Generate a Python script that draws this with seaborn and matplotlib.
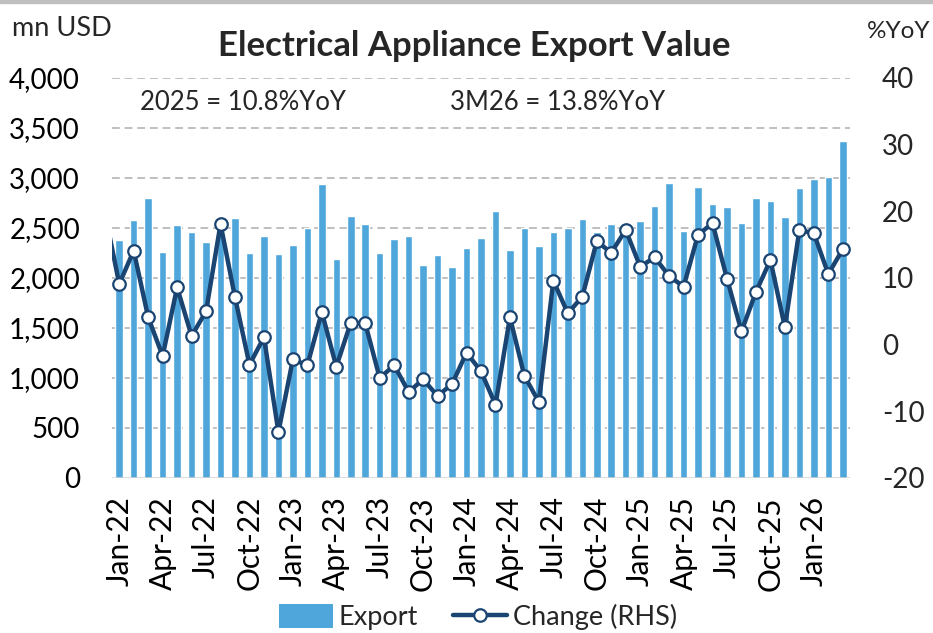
import numpy as np
import pandas as pd
import matplotlib
matplotlib.use("Agg")
import matplotlib.pyplot as plt
from matplotlib.lines import Line2D
from matplotlib.patches import Patch, Rectangle
import seaborn as sns

# ---------------- data ----------------
months = ["Jan-22","Feb-22","Mar-22","Apr-22","May-22","Jun-22","Jul-22","Aug-22","Sep-22","Oct-22","Nov-22","Dec-22",
          "Jan-23","Feb-23","Mar-23","Apr-23","May-23","Jun-23","Jul-23","Aug-23","Sep-23","Oct-23","Nov-23","Dec-23",
          "Jan-24","Feb-24","Mar-24","Apr-24","May-24","Jun-24","Jul-24","Aug-24","Sep-24","Oct-24","Nov-24","Dec-24",
          "Jan-25","Feb-25","Mar-25","Apr-25","May-25","Jun-25","Jul-25","Aug-25","Sep-25","Oct-25","Nov-25","Dec-25",
          "Jan-26","Feb-26","Mar-26"]

export = [2380, 2580, 2805, 2265, 2535, 2460, 2365, 2520, 2603, 2250, 2420, 2245,
          2327, 2503, 2940, 2187, 2623, 2540, 2250, 2393, 2420, 2130, 2230, 2110,
          2300, 2403, 2670, 2277, 2503, 2320, 2463, 2503, 2593, 2460, 2540, 2500,
          2570, 2720, 2947, 2473, 2910, 2740, 2710, 2553, 2800, 2770, 2607, 2897,
          2993, 3007, 3370]

# YoY change; first value is Dec-21 (drawn just outside the left edge)
change_months = ["Dec-21"] + months
change = [19.9, 9.1, 14.1, 4.1, -1.7, 8.6, 1.3, 5.0, 18.1, 7.1, -3.0, 1.1, -13.1,
          -2.2, -3.1, 4.9, -3.3, 3.3, 3.2, -5.0, -3.1, -7.1, -5.2, -7.7, -5.9,
          -1.2, -4.0, -9.0, 4.1, -4.7, -8.6, 9.6, 4.7, 7.2, 15.5, 13.8, 17.2,
          11.7, 13.1, 10.3, 8.7, 16.5, 18.2, 9.9, 2.0, 7.9, 12.7, 2.6, 17.2,
          16.7, 10.6, 14.3]

tick_labels = months[::3]
left_ticks = [0, 500, 1000, 1500, 2000, 2500, 3000, 3500, 4000]
right_ticks = [-20, -10, 0, 10, 20, 30, 40]
title = "Electrical Appliance Export Value"
notes = ["2025 = 10.8%YoY", "3M26 = 13.8%YoY"]

# ---------------- style ----------------
sns.set_theme(style="white")
plt.rcParams["font.family"] = ["Lato", "DejaVu Sans"]
plt.rcParams["axes.unicode_minus"] = False

BAR = "#4EA6DA"
LINE = "#1A4472"
GRID = "#BFBFBF"

fig = plt.figure(figsize=(9.33, 6.33), dpi=100)
ax = fig.add_axes([112/933, 1-478/633, (850-112)/933, 400/633])

df = pd.DataFrame({"month": months, "export": export})
sns.barplot(data=df, x="month", y="export", color=BAR, width=0.52,
            saturation=1, ax=ax, zorder=2)

ax.set_xlim(-0.5, len(months) - 0.5)
ax.set_ylim(0, 4000)
ax.set_yticks(left_ticks)
ax.set_yticklabels([f"{v:,}" for v in left_ticks], fontsize=20)
ax.set_xticks(np.arange(0, len(months), 3))
ax.set_xticklabels(tick_labels, rotation=90, fontsize=21.5)
ax.tick_params(axis="y", length=0, pad=23, colors="black")
ax.tick_params(axis="x", length=0, pad=13, colors="black")
ax.set_xlabel("")
ax.set_ylabel("")
for s in ax.spines.values():
    s.set_visible(False)
for v in left_ticks[1:]:
    ax.axhline(v, color=GRID, lw=1.4, ls=(0, (4, 2.5)), zorder=1)
ax.axhline(0, color="#D0D0D0", lw=1.8, zorder=3)

ax2 = ax.twinx()
dfl = pd.DataFrame({"pos": np.arange(-1, len(months)), "change": change})
sns.lineplot(data=dfl, x="pos", y="change", ax=ax2, color=LINE, lw=3.2,
             marker="o", markersize=9, markerfacecolor="white",
             markeredgecolor=LINE, markeredgewidth=1.6, zorder=4,
             markevery=list(range(1, len(change))))
ax2.set_xlim(-0.5, len(months) - 0.5)
ax2.set_ylim(-20, 40)
ax2.set_yticks(right_ticks)
ax2.set_yticklabels([str(v) for v in right_ticks], fontsize=20)
ax2.tick_params(axis="y", length=0, pad=23)
ax2.set_xlabel("")
ax2.set_ylabel("")
for s in ax2.spines.values():
    s.set_visible(False)

# texts
fig.text(474/933, 1-46/633, title, ha="center", va="center",
         fontsize=25, fontweight="bold", family=["Liberation Sans Narrow", "Lato"])
fig.text(12/933, 1-28/633, "mn USD", ha="left", va="center", fontsize=19.5)
fig.text(867/933, 1-32/633, "%YoY", ha="left", va="center", fontsize=17.5)
fig.text(140/933, 1-103/633, notes[0], ha="left", va="center", fontsize=18.5)
fig.text(450/933, 1-103/633, notes[1], ha="left", va="center", fontsize=18.5)

# top grey band
fig.patches.append(Rectangle((0, 1-3/633), 1, 3/633, transform=fig.transFigure,
                             color="#BFBFBF", zorder=0))

handles = [Patch(facecolor=BAR, edgecolor="none", label="Export"),
           Line2D([0], [0], color=LINE, lw=3.2, marker="o", markersize=9,
                  markerfacecolor="white", markeredgecolor=LINE,
                  markeredgewidth=1.6, label="Change (RHS)")]
fig.legend(handles=handles, loc="center", bbox_to_anchor=(478/933, 1-617/633),
           ncol=2, frameon=False, fontsize=19.5, handlelength=2.0,
           handleheight=1.0, handletextpad=0.2, columnspacing=1.3)

fig.savefig("out.png", dpi=100)
